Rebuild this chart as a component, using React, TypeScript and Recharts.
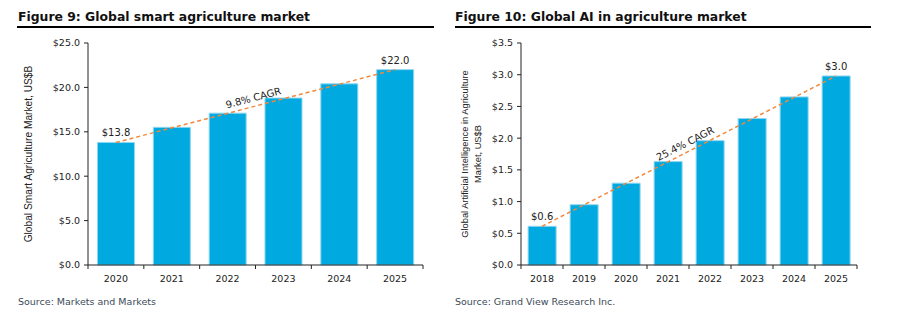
import React from 'react';
import { BarChart, Bar, XAxis, YAxis, ReferenceLine, LabelList } from 'recharts';

// Figure 9 – smart agriculture (US$B)
const smartYears = ['2020', '2021', '2022', '2023', '2024', '2025'];
const smartValues = [13.8, 15.5, 17.1, 18.8, 20.4, 22.0];
const smartTicks = [0, 5, 10, 15, 20, 25];
const smartCagr = '9.8% CAGR';

// Figure 10 – AI in agriculture (US$B)
const aiYears = ['2018', '2019', '2020', '2021', '2022', '2023', '2024', '2025'];
const aiValues = [0.61, 0.95, 1.29, 1.63, 1.96, 2.31, 2.65, 2.98];
const aiTicks = [0, 0.5, 1, 1.5, 2, 2.5, 3, 3.5];
const aiCagr = '25.4% CAGR';

const FONT = '"DejaVu Sans", Verdana, sans-serif';
const BAR = '#00A9E0';
const TREND = '#F0883E';
const AXIS = '#222';

const makeTick = (count: number, half: number) => (props: any) => {
  const { x, y, payload, index } = props;
  return (
    <g>
      <line x1={x - half} x2={x - half} y1={y} y2={y + 4} stroke={AXIS} />
      {index === count - 1 && <line x1={x + half} x2={x + half} y1={y} y2={y + 4} stroke={AXIS} />}
      <text x={x} y={y + 17} textAnchor="middle" fontSize={9.5} fontFamily={FONT} fill="#222">
        {payload.value}
      </text>
    </g>
  );
};

const makeYLabel = (lines: string[], cx: number, fontSize: number) => (props: any) => {
  const vb = props.viewBox;
  const x = vb.x + cx;
  const y = vb.y + vb.height / 2;
  const lh = 13;
  return (
    <text
      transform={`rotate(-90 ${x} ${y})`}
      x={x}
      y={y}
      textAnchor="middle"
      dominantBaseline="central"
      fontSize={fontSize}
      fontFamily='"Liberation Sans", Arial, sans-serif'
      fill="#222"
    >
      {lines.map((l, i) => (
        <tspan key={i} x={x} dy={i === 0 ? -((lines.length - 1) * lh) / 2 : lh}>
          {l}
        </tspan>
      ))}
    </text>
  );
};

const makeCagrLabel = (text: string) => (props: any) => {
  const vb = props.viewBox;
  if (!vb) return null;
  const cx = vb.x + vb.width / 2;
  const cy = vb.y + vb.height / 2;
  const deg = (Math.atan2(vb.height, vb.width) * 180) / Math.PI;
  return (
    <g transform={`translate(${cx} ${cy}) rotate(${-deg})`}>
      <text x={0} y={-5} textAnchor="middle" fontSize={10} fontFamily={FONT} fill="#222">
        {text}
      </text>
    </g>
  );
};

const makeEndLabel = (count: number) => (props: any) => {
  const vb = props.viewBox || props;
  const { index, value } = props;
  if (index !== 0 && index !== count - 1) return null;
  return (
    <text x={vb.x + vb.width / 2} y={vb.y - 6} textAnchor="middle" fontSize={10} fontFamily={FONT} fill="#222">
      ${Number(value).toFixed(1)}
    </text>
  );
};

interface PanelProps {
  years: string[];
  values: number[];
  ticks: number[];
  cagr: string;
  width: number;
  yWidth: number;
  right: number;
  yLines: string[];
  yCx: number;
  yFont: number;
}

const Panel: React.FC<PanelProps> = ({ years, values, ticks, cagr, width, yWidth, right, yLines, yCx, yFont }) => {
  const data = years.map((year, i) => ({ year, value: values[i] }));
  const last = years.length - 1;
  const half = (width - yWidth - right) / years.length / 2;
  return (
    <BarChart
      width={width}
      height={331}
      data={data}
      margin={{ top: 43, right, bottom: 36, left: 0 }}
      barCategoryGap="17%"
    >
      <XAxis
        dataKey="year"
        height={30}
        interval={0}
        tickLine={false}
        tickSize={0}
        tickMargin={0}
        axisLine={{ stroke: AXIS }}
        tick={makeTick(years.length, half)}
      />
      <YAxis
        width={yWidth}
        domain={[ticks[0], ticks[ticks.length - 1]]}
        ticks={ticks}
        tickSize={4}
        tickMargin={4}
        axisLine={{ stroke: AXIS }}
        tickLine={{ stroke: AXIS }}
        tick={{ fontSize: 9.5, fontFamily: FONT, fill: '#222' }}
        tickFormatter={(v: number) => `$${v.toFixed(1)}`}
        label={{ content: makeYLabel(yLines, yCx, yFont) } as any}
      />
      <Bar dataKey="value" fill={BAR} stroke="#8FD6F0" strokeWidth={1} isAnimationActive={false}>
        <LabelList dataKey="value" content={makeEndLabel(years.length)} />
      </Bar>
      <ReferenceLine
        segment={[
          { x: years[0], y: values[0] },
          { x: years[last], y: values[last] },
        ]}
        stroke={TREND}
        strokeWidth={1.5}
        strokeDasharray="4 3"
        ifOverflow="visible"
        label={{ content: makeCagrLabel(cagr) } as any}
      />
    </BarChart>
  );
};

export default function App() {
  return (
    <div style={{ position: 'absolute', left: 0, top: 0, width: 905, height: 331, background: '#fff' }}>
      <div style={{ position: 'absolute', left: 0, top: 0 }}>
        <Panel
          years={smartYears}
          values={smartValues}
          ticks={smartTicks}
          cagr={smartCagr}
          width={450}
          yWidth={88}
          right={27}
          yLines={['Global Smart Agriculture Market, US$B']}
          yCx={28}
          yFont={10.2}
        />
      </div>
      <div style={{ position: 'absolute', left: 450, top: 0 }}>
        <Panel
          years={aiYears}
          values={aiValues}
          ticks={aiTicks}
          cagr={aiCagr}
          width={455}
          yWidth={71}
          right={48}
          yLines={['Global Artificial Intelligence in Agriculture', 'Market, US$B']}
          yCx={21.5}
          yFont={9.3}
        />
      </div>
      <svg width={905} height={331} style={{ position: 'absolute', left: 0, top: 0, pointerEvents: 'none' }}>
        <g fontFamily={FONT}>
          <text x={18} y={21} fontSize={12.4} fontWeight="bold" fill="#111">
            Figure 9: Global smart agriculture market
          </text>
          <rect x={17} y={26} width={417} height={2} fill="#000" />
          <text x={18} y={305} fontSize={9.5} fill="#3c4a5a">
            Source: Markets and Markets
          </text>
          <text x={455} y={21} fontSize={12.4} fontWeight="bold" fill="#111">
            Figure 10: Global AI in agriculture market
          </text>
          <rect x={455} y={26} width={416} height={2} fill="#000" />
          <text x={455} y={305} fontSize={9.5} fill="#3c4a5a">
            Source: Grand View Research Inc.
          </text>
        </g>
      </svg>
    </div>
  );
}
